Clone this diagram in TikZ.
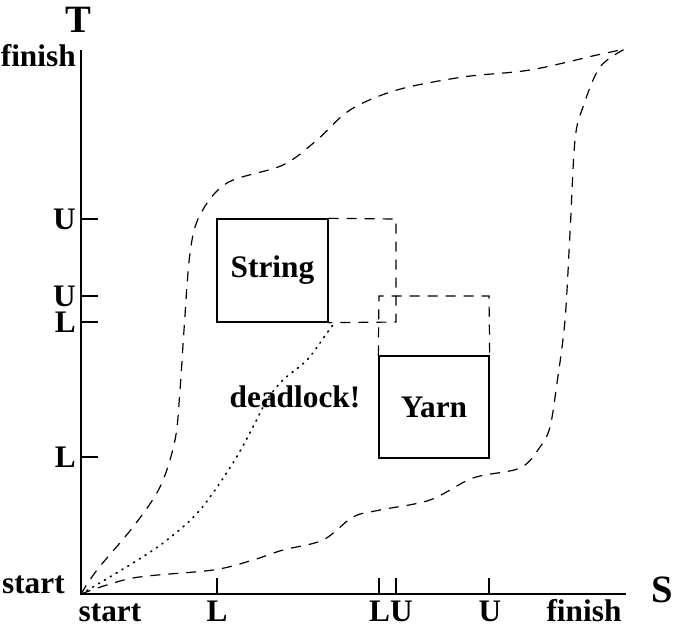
\documentclass[tikz,border=0pt]{standalone}
\usepackage{fontspec}
\setmainfont{Liberation Serif}
\begin{document}
\begin{tikzpicture}[x=0.75pt,y=-0.75pt,
  axis/.style={line width=1pt},
  tick/.style={line width=1pt},
  lbl/.style={font=\fontsize{23.5}{25}\selectfont\bfseries, inner sep=0pt},
  big/.style={font=\fontsize{29}{31}\selectfont\bfseries, inner sep=0pt},
  box/.style={draw, line width=1pt, inner sep=0pt, font=\fontsize{23.5}{25}\selectfont\bfseries},
  dashline/.style={line width=0.9pt, dash pattern=on 7.5pt off 6pt},
  dotline/.style={line width=1.2pt, dash pattern=on 0.9pt off 4.2pt, line cap=round}]
\useasboundingbox (0,0) rectangle (675,625);
% axes
\coordinate (O) at (81,594);
\coordinate (Ytop) at (81,50);
\coordinate (Xend) at (626,594);
\coordinate (F) at (625,49);
\draw[axis] (Ytop) -- (O) -- (Xend);
% y ticks
\draw[tick] (81,219) -- (98,219);
\draw[tick] (81,296) -- (98,296);
\draw[tick] (81,322) -- (98,322);
\draw[tick] (81,457) -- (98,457);
% x ticks
\draw[tick] (217,594) -- (217,578);
\draw[tick] (379,594) -- (379,578);
\draw[tick] (396,594) -- (396,578);
\draw[tick] (489,594) -- (489,578);
% axis labels
\node[big, anchor=base] (T) at (78,32) {T};
\node[big, anchor=base] (S) at (662,602) {S};
\node[lbl, anchor=base east] (yfin) at (76,66) {finish};
\node[lbl, anchor=east] (yU1) at (76,219) {U};
\node[lbl, anchor=east] (yU2) at (76,296) {U};
\node[lbl, anchor=east] (yL1) at (76,322) {L};
\node[lbl, anchor=east] (yL2) at (76,457) {L};
\node[lbl, anchor=base east] (ystart) at (65,593) {start};
\node[lbl, anchor=base] (xstart) at (110,621) {start};
\node[lbl, anchor=base] (xL) at (217,621) {L};
\node[lbl, anchor=base] (xLU) at (391,621) {LU};
\node[lbl, anchor=base] (xU) at (490,621) {U};
\node[lbl, anchor=base] (xfin) at (584,621) {finish};
% boxes
\node[box, minimum width=111*0.75pt, minimum height=103*0.75pt] (string) at (272.5,270.5) {String};
\node[box, minimum width=110*0.75pt, minimum height=102*0.75pt] (yarn) at (434,407) {Yarn};
\draw[dashline] (string.north east) -- (396,219) -- (396,322) -- (string.south east);
\draw[dashline] (yarn.north west) -- (379,296) -- (489,296) -- (yarn.north east);
\node[lbl, anchor=base] (dl) at (295,407) {deadlock!};
% curves
\draw[dashline] plot[smooth, tension=0.55] coordinates {(O) (97,570) (133,527) (160,487) (175,440) (180,390) (184,330) (190,253) (200,215) (227,183) (283,165) (317,140) (350,110) (397,90) (463,77) (530,70) (597,55) (F)};
\draw[dashline] plot[smooth, tension=0.55] coordinates {(O) (133,578) (213,570) (253,560) (283,550) (323,540) (353,517) (380,510) (430,500) (473,478) (520,468) (540,447) (550,427) (557,383) (565,320) (570,233) (575,140) (583,107) (600,67) (F)};
\draw[dotline] plot[smooth, tension=0.55] coordinates {(O) (133,563) (167,540) (200,510) (233,463) (253,427) (267,400) (283,380) (307,360) (327,333) (335,322)};
\end{tikzpicture}
\end{document}
